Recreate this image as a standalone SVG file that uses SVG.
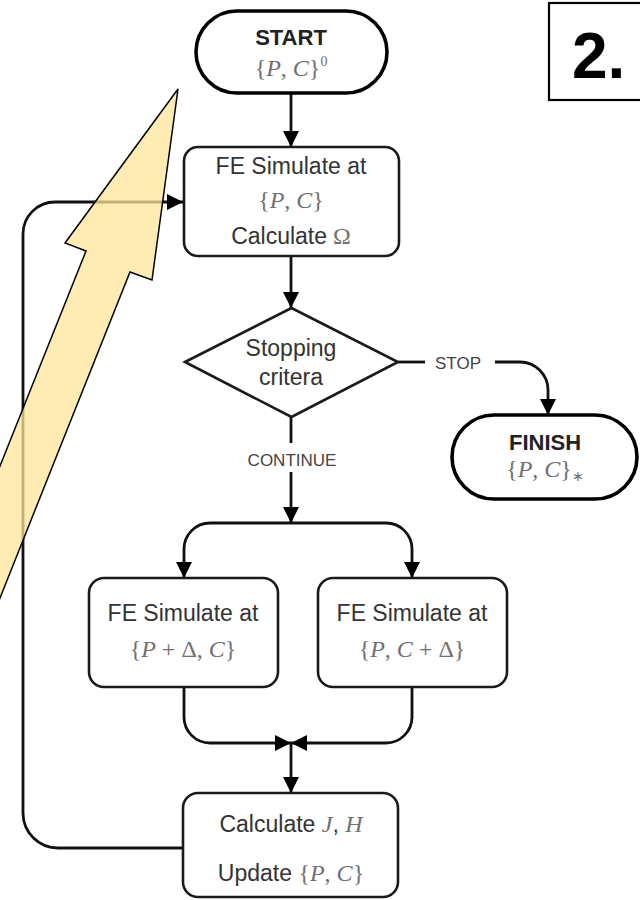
<svg xmlns="http://www.w3.org/2000/svg" width="640" height="900" viewBox="0 0 640 900">
  <style>
    .box { fill: #fff; stroke: #1a1a1a; stroke-width: 2.6; }
    .term { fill: #fff; stroke: #000; stroke-width: 3.6; }
    .edge { fill: none; stroke: #111; stroke-width: 2.8; }
    .lbl { font-family: "Liberation Sans", Arial, Helvetica, sans-serif; font-size: 23px; fill: #333; text-anchor: middle; }
    .small { font-family: "Liberation Sans", Arial, Helvetica, sans-serif; font-size: 17px; fill: #444; text-anchor: middle; }
    .bold { font-family: "Liberation Sans", Arial, Helvetica, sans-serif; font-size: 22px; font-weight: bold; fill: #222; text-anchor: middle; }
    .math { font-family: "Liberation Serif", "Times New Roman", serif; font-size: 24px; fill: #707070; text-anchor: middle; }
    .it { font-style: italic; }
    .m { font-family: "Liberation Serif", "Times New Roman", serif; font-size: 24px; fill: #707070; }
  </style>
  <defs>
    <marker id="ah" viewBox="0 0 10 10" refX="10" refY="5" markerWidth="16" markerHeight="16" markerUnits="userSpaceOnUse" orient="auto">
      <path d="M0,0 L10,5 L0,10 z" fill="#000"/>
    </marker>
  </defs>

  <!-- connectors -->
  <g id="connectors">
    <path class="edge" d="M291,93 V147" marker-end="url(#ah)"/>
    <path class="edge" d="M291,256 V308" marker-end="url(#ah)"/>
    <path class="edge" d="M291,417 V443"/>
    <path class="edge" d="M291,472 V523" marker-end="url(#ah)"/>
    <path class="edge" d="M398,362 H425"/>
    <path class="edge" d="M495,362 H520 A28,28 0 0 1 548,390 V415" marker-end="url(#ah)"/>
    <path class="edge" d="M291,523 H210 A26,26 0 0 0 184,549 V578" marker-end="url(#ah)"/>
    <path class="edge" d="M291,523 H386 A26,26 0 0 1 412,549 V578" marker-end="url(#ah)"/>
    <path class="edge" d="M184,687 V717 A26,26 0 0 0 210,743 H291" marker-end="url(#ah)"/>
    <path class="edge" d="M412,687 V717 A26,26 0 0 1 386,743 H291" marker-end="url(#ah)"/>
    <path class="edge" d="M291,743 V793" marker-end="url(#ah)"/>
    <path class="edge" d="M183,848 H58 A35,35 0 0 1 23,813 V234 A32,32 0 0 1 55,202 H183" marker-end="url(#ah)"/>
    <text class="small" x="458" y="369">STOP</text>
    <text class="small" x="292" y="466">CONTINUE</text>
  </g>

  <!-- start terminator -->
  <g id="start">
    <rect class="term" x="196" y="11" width="191" height="82" rx="41"/>
    <text class="bold" x="291" y="45">START</text>
    <text class="math" x="291" y="76">{<tspan class="it">P</tspan>,  <tspan class="it">C</tspan>}<tspan font-size="14" dy="-10">0</tspan></text>
  </g>

  <!-- panel number -->
  <g id="panel-label">
    <rect x="549" y="3" width="100" height="97" fill="#fff" stroke="#000" stroke-width="2.2"/>
    <text x="572" y="78" font-family="Liberation Sans, Arial, sans-serif" font-size="64" font-weight="bold" fill="#000">2.</text>
  </g>

  <!-- first simulation -->
  <g id="simulate">
    <rect class="box" x="184" y="147" width="215" height="109" rx="14"/>
    <text class="lbl" x="291" y="174">FE Simulate at</text>
    <text class="math" x="291" y="208">{<tspan class="it">P</tspan>,  <tspan class="it">C</tspan>}</text>
    <text class="lbl" x="291" y="244">Calculate<tspan class="m"> Ω</tspan></text>
  </g>

  <!-- decision -->
  <g id="stopping">
    <polygon class="box" points="185,362 291.5,308 398,362 291.5,417"/>
    <text class="lbl" x="291" y="356">Stopping</text>
    <text class="lbl" x="291" y="385">critera</text>
  </g>

  <!-- finish terminator -->
  <g id="finish">
    <rect class="term" x="452" y="415" width="185" height="84" rx="42"/>
    <text class="bold" x="545" y="450">FINISH</text>
    <text class="math" x="545" y="477">{<tspan class="it">P</tspan>,  <tspan class="it">C</tspan>}<tspan font-size="14" dy="4">∗</tspan></text>
  </g>

  <!-- perturbed simulations -->
  <g id="simulate-p">
    <rect class="box" x="89" y="578" width="189" height="109" rx="15"/>
    <text class="lbl" x="183" y="621">FE Simulate at</text>
    <text class="math" x="183" y="657">{<tspan class="it">P</tspan> + Δ,  <tspan class="it">C</tspan>}</text>
  </g>
  <g id="simulate-c">
    <rect class="box" x="318" y="578" width="189" height="109" rx="15"/>
    <text class="lbl" x="412" y="621">FE Simulate at</text>
    <text class="math" x="412" y="657">{<tspan class="it">P</tspan>,  <tspan class="it">C</tspan> + Δ}</text>
  </g>

  <!-- update step -->
  <g id="update">
    <rect class="box" x="183" y="793" width="215" height="104" rx="15"/>
    <text class="lbl" x="291" y="832">Calculate <tspan class="m it">J</tspan>, <tspan class="m it">H</tspan></text>
    <text class="lbl" x="291" y="881">Update <tspan class="m">{</tspan><tspan class="m it">P</tspan><tspan class="m">,  </tspan><tspan class="m it">C</tspan><tspan class="m">}</tspan></text>
  </g>

  <!-- highlight arrow -->
  <g id="highlight-arrow">
    <polygon points="178,89 152,280 130,272 -10,623 -10,491 86,251 65,243" fill="#FFE699" fill-opacity="0.75" stroke="#000" stroke-width="1.5" stroke-linejoin="miter"/>
  </g>
</svg>
